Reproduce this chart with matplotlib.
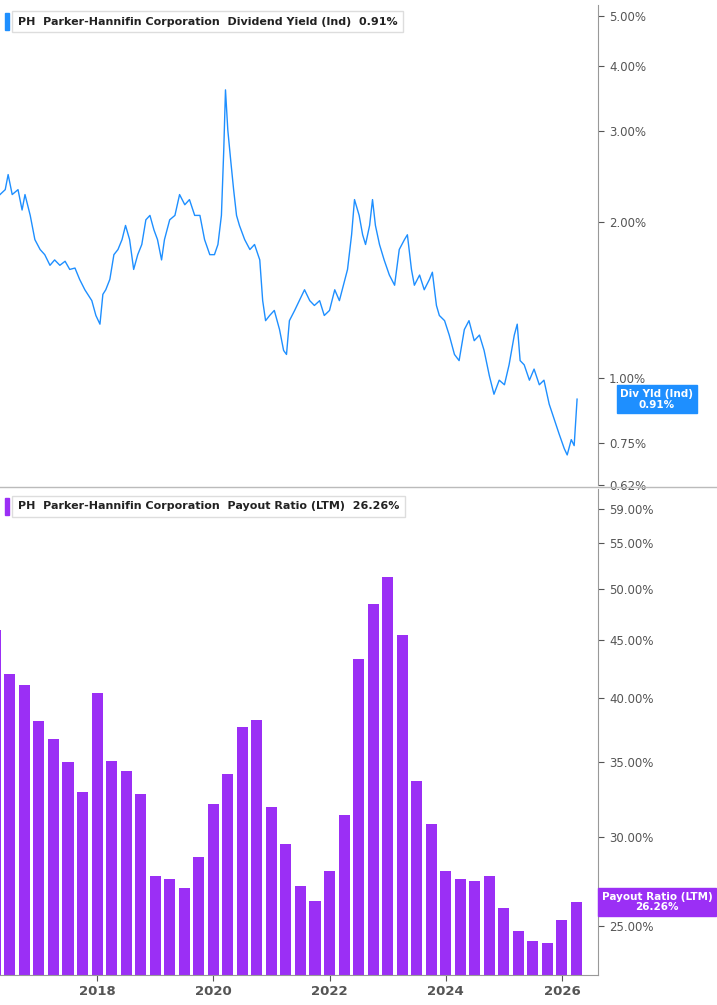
import matplotlib
matplotlib.use("Agg")
import matplotlib.pyplot as plt
from matplotlib.ticker import FixedLocator, NullLocator, NullFormatter

yield_dates = [2016.33,2016.42,2016.47,2016.54,2016.64,2016.71,2016.76,2016.85,2016.93,2017.02,2017.10,2017.19,2017.27,2017.36,2017.45,2017.53,2017.62,2017.70,2017.79,2017.84,2017.91,2017.98,2018.05,2018.10,2018.15,2018.22,2018.29,2018.36,2018.43,2018.49,2018.56,2018.63,2018.70,2018.77,2018.84,2018.91,2018.98,2019.04,2019.11,2019.16,2019.25,2019.34,2019.42,2019.51,2019.59,2019.68,2019.77,2019.85,2019.94,2020.02,2020.08,2020.14,2020.18,2020.21,2020.25,2020.30,2020.35,2020.40,2020.45,2020.54,2020.63,2020.71,2020.80,2020.85,2020.90,2020.97,2021.05,2021.14,2021.21,2021.26,2021.31,2021.40,2021.48,2021.57,2021.66,2021.74,2021.83,2021.91,2022.00,2022.09,2022.17,2022.24,2022.31,2022.38,2022.43,2022.51,2022.57,2022.62,2022.69,2022.74,2022.79,2022.86,2022.94,2023.03,2023.12,2023.20,2023.29,2023.34,2023.41,2023.46,2023.55,2023.63,2023.72,2023.77,2023.84,2023.89,2023.98,2024.06,2024.15,2024.23,2024.32,2024.40,2024.49,2024.58,2024.66,2024.75,2024.83,2024.92,2025.01,2025.09,2025.18,2025.23,2025.28,2025.35,2025.44,2025.52,2025.61,2025.69,2025.78,2025.87,2025.95,2026.04,2026.09,2026.16,2026.21,2026.26]
yield_values = [2.26,2.31,2.47,2.26,2.31,2.11,2.26,2.06,1.85,1.77,1.73,1.65,1.69,1.65,1.68,1.62,1.63,1.55,1.48,1.45,1.41,1.32,1.27,1.45,1.48,1.55,1.73,1.77,1.85,1.97,1.85,1.62,1.73,1.81,2.02,2.06,1.93,1.85,1.69,1.85,2.02,2.06,2.26,2.16,2.21,2.06,2.06,1.85,1.73,1.73,1.81,2.06,2.75,3.60,3.01,2.63,2.31,2.06,1.97,1.85,1.77,1.81,1.69,1.41,1.29,1.32,1.35,1.24,1.13,1.11,1.29,1.35,1.41,1.48,1.41,1.38,1.41,1.32,1.35,1.48,1.41,1.51,1.62,1.89,2.21,2.06,1.89,1.81,1.97,2.21,1.97,1.81,1.69,1.58,1.51,1.77,1.85,1.89,1.62,1.51,1.58,1.48,1.55,1.60,1.38,1.32,1.29,1.21,1.11,1.08,1.24,1.29,1.18,1.21,1.13,1.01,0.93,0.99,0.97,1.06,1.21,1.27,1.08,1.06,0.99,1.04,0.97,0.99,0.89,0.83,0.78,0.73,0.71,0.76,0.74,0.91]

payout_dates = [2016.25 + 0.25*i for i in range(41)]
payout_values = [46.0,42.0,41.0,38.1,36.7,35.0,32.9,40.4,35.1,34.4,32.8,27.7,27.5,27.0,28.8,32.1,34.2,37.6,38.2,31.9,29.6,27.1,26.3,28.0,31.4,43.3,48.5,51.3,45.5,33.7,30.8,28.0,27.5,27.4,27.7,25.9,24.7,24.2,24.1,25.3,26.26]

yield_ticks = [0.62,0.75,1.0,2.0,3.0,4.0,5.0]
payout_ticks = [25,30,35,40,45,50,55,59]
year_ticks = [2018,2020,2022,2024,2026]

BLUE = "#1e8fff"
PURPLE = "#9b2ff5"
GRAY = "#555555"

fig = plt.figure(figsize=(7.17, 10.05), dpi=100)
ax1 = fig.add_axes([0, 0.517, 598/717, 0.478])
ax2 = fig.add_axes([0, 0.030, 598/717, 0.483])
xlim = (2016.33, 2026.62)

for ax in (ax1, ax2):
    ax.set_yscale("log")
    ax.set_xlim(*xlim)
    for s in ("left", "top"):
        ax.spines[s].set_visible(False)
    ax.spines["right"].set_color("#999999")
    ax.spines["bottom"].set_color("#999999")
    ax.yaxis.tick_right()
    ax.yaxis.set_minor_locator(NullLocator())
    ax.yaxis.set_minor_formatter(NullFormatter())
    ax.tick_params(axis="y", colors=GRAY, labelsize=8.5, length=4, pad=4)

ax1.plot(yield_dates, yield_values, color=BLUE, lw=1.0)
ax1.set_ylim(0.62, 5.25)
ax1.yaxis.set_major_locator(FixedLocator(yield_ticks))
ax1.set_yticklabels([f"{t:.2f}%" for t in yield_ticks])
ax1.set_xticks([])
ax1.spines["bottom"].set_visible(False)

ax2.bar(payout_dates, payout_values, width=0.19, color=PURPLE, bottom=0.01)
ax2.set_ylim(22.6, 61.4)
ax2.yaxis.set_major_locator(FixedLocator(payout_ticks))
ax2.set_yticklabels([f"{t:.2f}%" for t in payout_ticks])
ax2.set_xticks(year_ticks)
ax2.set_xticklabels([str(y) for y in year_ticks], fontweight="bold")
ax2.tick_params(axis="x", colors=GRAY, labelsize=9.5, length=4)

fig.add_artist(plt.Line2D([0, 1], [1 - 487/1005]*2, color="#bbbbbb", lw=1))

def legend(ax, y, color, name, val):
    ax.text(0.03, y, f"PH  Parker-Hannifin Corporation  {name}  {val}", transform=ax.transAxes,
            fontsize=8, fontweight="bold", color="#222222", va="center",
            bbox=dict(boxstyle="square,pad=0.5", fc="white", ec="#dddddd"))
    ax.add_patch(plt.Rectangle((0.008, y - 0.018), 0.007, 0.036, transform=ax.transAxes,
                               color=color, clip_on=False))

legend(ax1, 0.965, BLUE, "Dividend Yield (Ind)", "0.91%")
legend(ax2, 0.965, PURPLE, "Payout Ratio (LTM)", "26.26%")

xc = 657 / 598
ax1.text(xc, 0.91, "Div Yld (Ind)\n0.91%", transform=ax1.get_yaxis_transform(),
         ha="center", va="center", fontsize=7.5, fontweight="bold", color="white",
         linespacing=1.1, bbox=dict(boxstyle="square,pad=0.35", fc=BLUE, ec=BLUE))
ax2.text(xc, 26.26, "Payout Ratio (LTM)\n26.26%", transform=ax2.get_yaxis_transform(),
         ha="center", va="center", fontsize=7.5, fontweight="bold", color="white",
         linespacing=1.1, bbox=dict(boxstyle="square,pad=0.35", fc=PURPLE, ec=PURPLE))

fig.savefig("out.png", dpi=100)
